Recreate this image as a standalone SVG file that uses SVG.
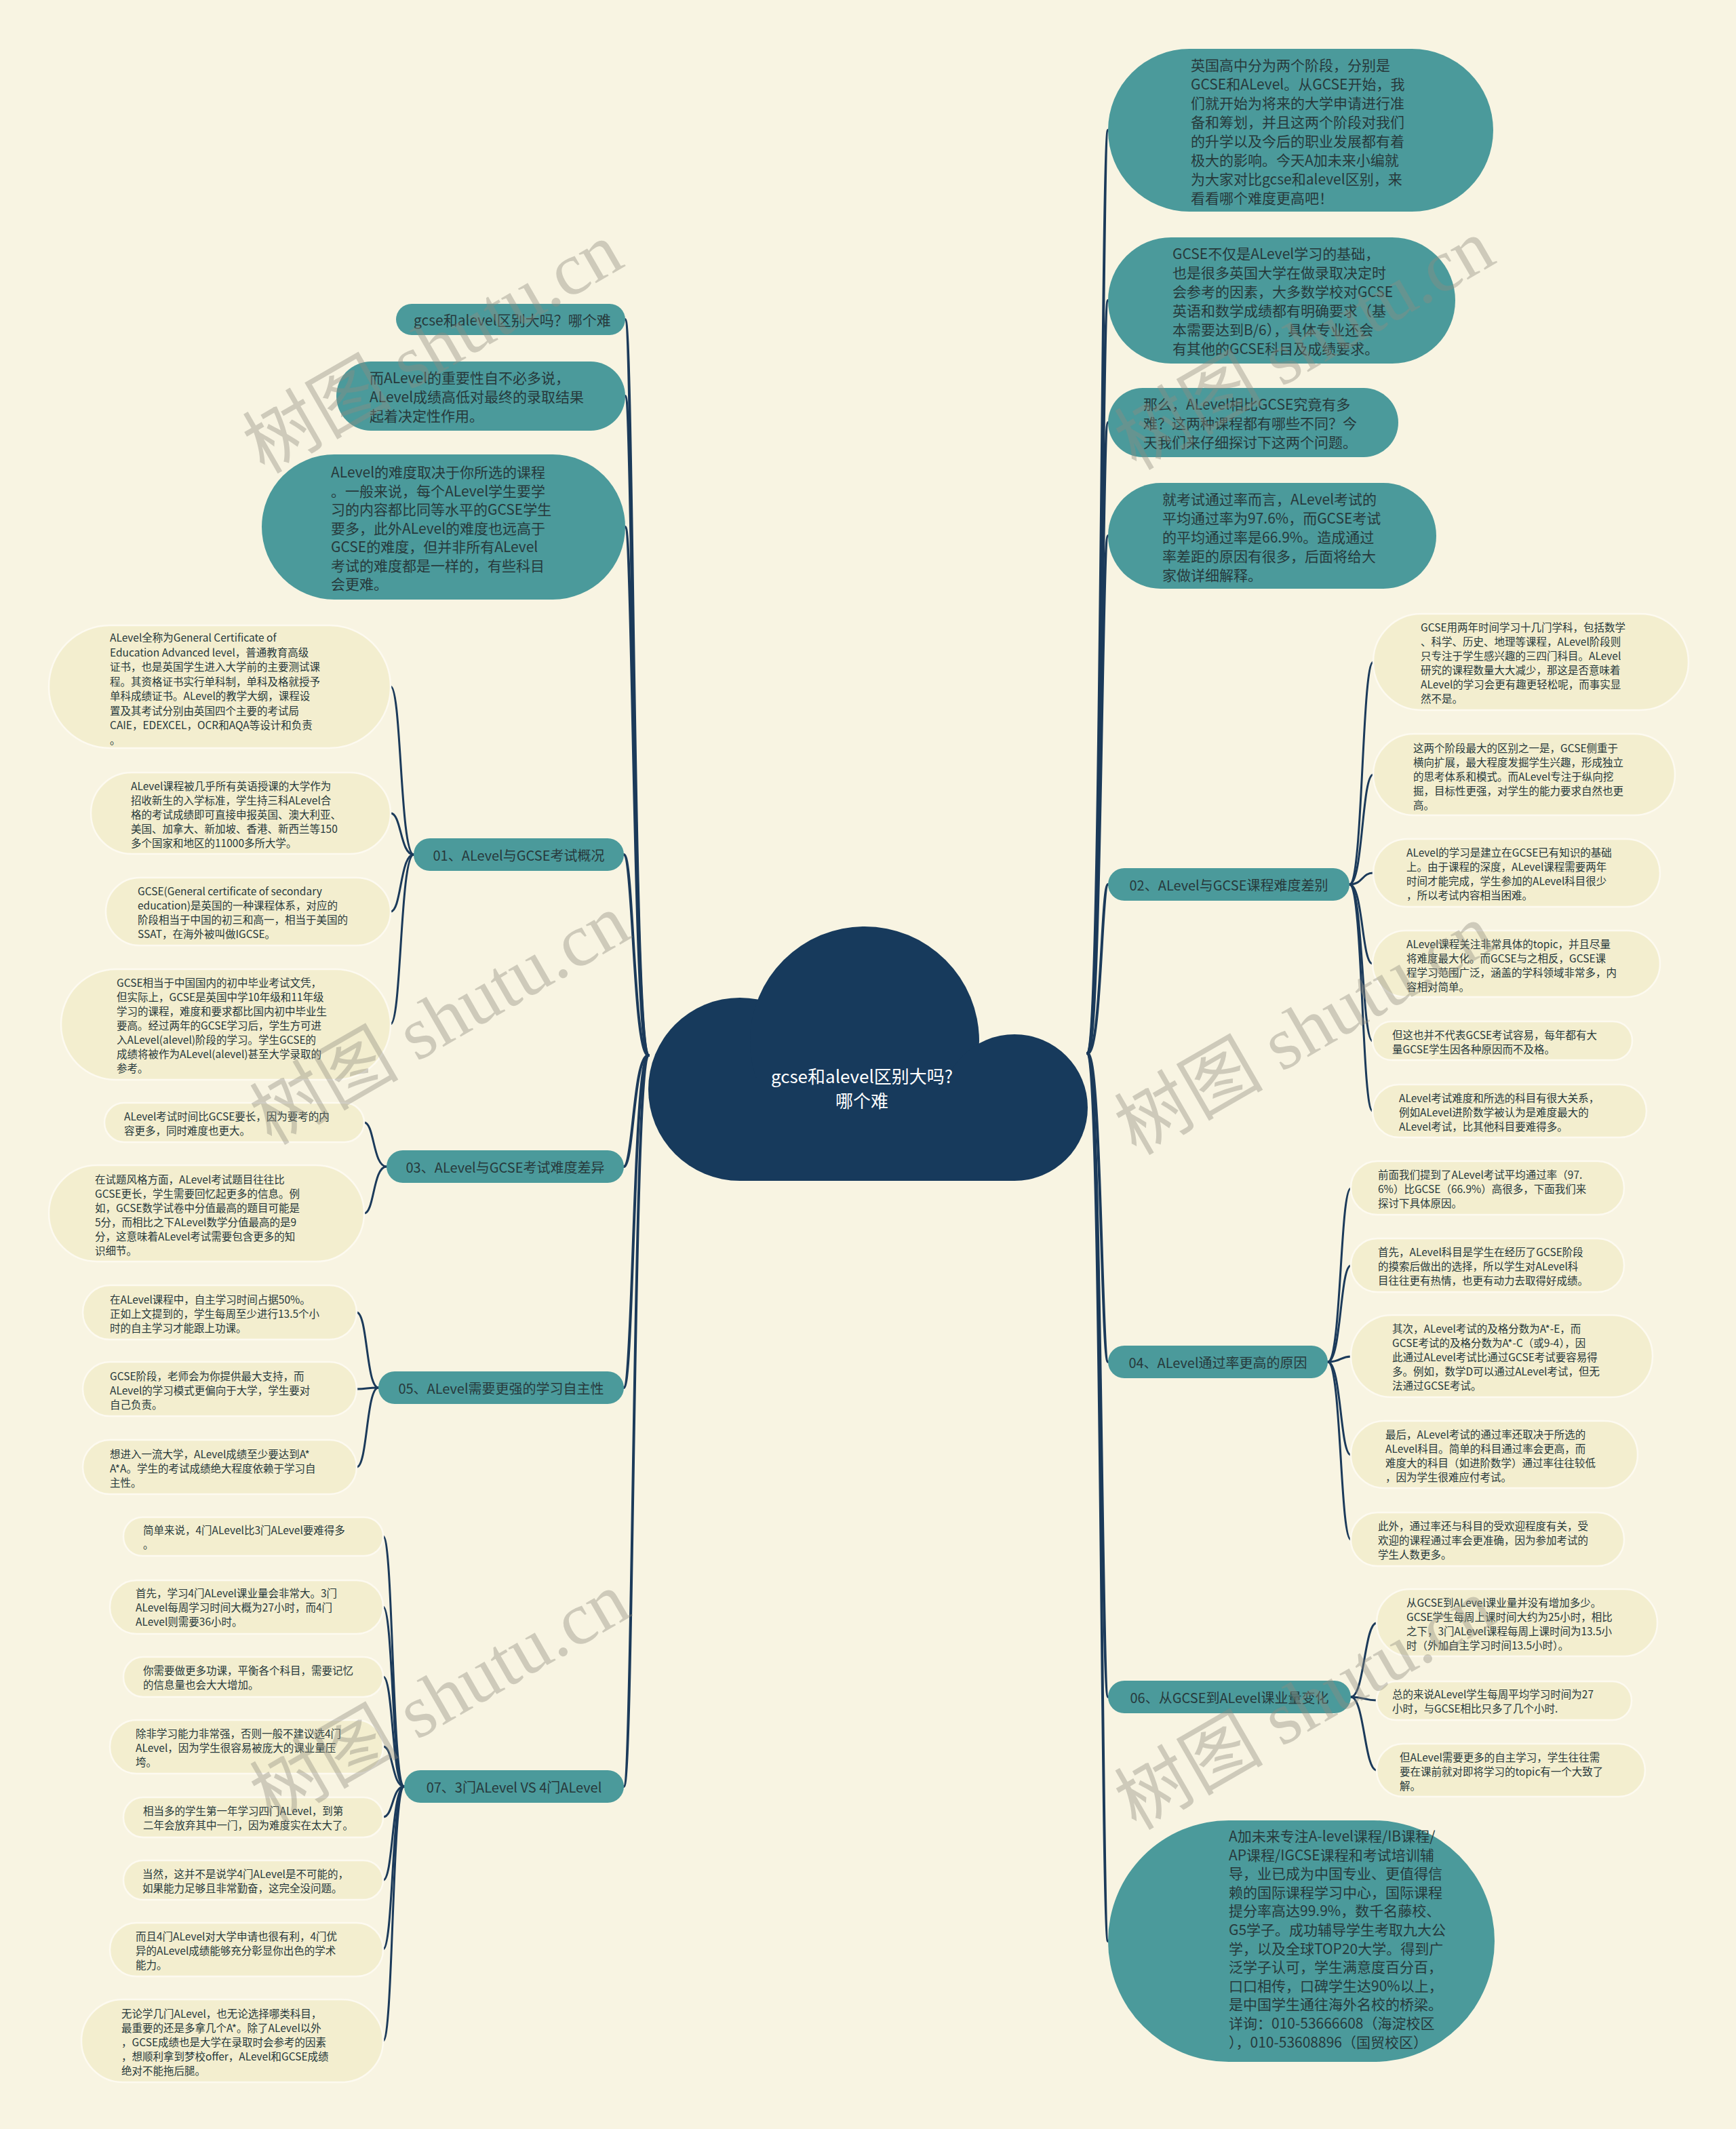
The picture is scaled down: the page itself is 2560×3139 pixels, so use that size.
<svg xmlns="http://www.w3.org/2000/svg" width="2560" height="3139" viewBox="0 0 2560 3139">
<defs>
<style>
.bg{fill:#f8f4e2}
.teal{fill:#4b9a9b}
.leaf{fill:#f3eecf;stroke:#fdfaf0;stroke-width:2.5}
.t{font-family:"Noto Sans CJK SC","Noto Sans",sans-serif;fill:#27393b;dominant-baseline:central}
.tl{font-size:21px}
.tb{font-size:20px}
.ts{font-size:15.5px}
.th{font-size:21px}
.mid{text-anchor:middle}
.conn{fill:none;stroke:#1b3a5a;stroke-linecap:round}
.c1{stroke-width:4}
.c2{stroke-width:3}
.cloud{fill:#173a5c}
.ct{font-family:"Noto Sans CJK SC","Noto Sans",sans-serif;font-size:26px;fill:#ffffff;text-anchor:middle;dominant-baseline:central}
.wm{font-family:"Liberation Serif","Noto Sans CJK SC",serif;font-size:110px;fill:#8f8c80;fill-opacity:0.4;text-anchor:middle}
</style>
</defs>
<rect class="bg" x="0" y="0" width="2560" height="3139"/>

<g id="connectors">
<path class="conn c1" d="M956,1556 C934,1556 934,471 922,471"/>
<path class="conn c1" d="M956,1556 C934,1556 934,584 922,584"/>
<path class="conn c1" d="M956,1556 C934,1556 934,777 922,777"/>
<path class="conn c1" d="M956,1556 C934,1556 934,1260 920,1260"/>
<path class="conn c1" d="M956,1556 C934,1556 934,1720 920,1720"/>
<path class="conn c1" d="M956,1556 C934,1556 934,2046 920,2046"/>
<path class="conn c1" d="M956,1556 C934,1556 934,2634 920,2634"/>
<path class="conn c1" d="M1604,1553 C1624,1553 1624,192 1634,192"/>
<path class="conn c1" d="M1604,1553 C1624,1553 1624,443 1634,443"/>
<path class="conn c1" d="M1604,1553 C1624,1553 1624,623 1634,623"/>
<path class="conn c1" d="M1604,1553 C1624,1553 1624,790 1634,790"/>
<path class="conn c1" d="M1604,1553 C1624,1553 1624,1304 1634,1304"/>
<path class="conn c1" d="M1604,1553 C1624,1553 1624,2008 1634,2008"/>
<path class="conn c1" d="M1604,1553 C1624,1553 1624,2502 1634,2502"/>
<path class="conn c1" d="M1604,1553 C1624,1553 1624,2862 1634,2862"/>
<path class="conn c2" d="M610,1260 C590,1260 592,1012 576,1012"/>
<path class="conn c2" d="M610,1260 C590,1260 592,1199 576,1199"/>
<path class="conn c2" d="M610,1260 C590,1260 592,1344 576,1344"/>
<path class="conn c2" d="M610,1260 C590,1260 592,1510 576,1510"/>
<path class="conn c2" d="M570,1720 C550,1720 552,1655 537,1655"/>
<path class="conn c2" d="M570,1720 C550,1720 552,1789 537,1789"/>
<path class="conn c2" d="M558,2046 C540,2046 542,1935 526,1935"/>
<path class="conn c2" d="M558,2046 C540,2046 542,2048 526,2048"/>
<path class="conn c2" d="M558,2046 C540,2046 542,2163 526,2163"/>
<path class="conn c2" d="M596,2634 C578,2634 580,2265 565,2265"/>
<path class="conn c2" d="M596,2634 C578,2634 580,2369 565,2369"/>
<path class="conn c2" d="M596,2634 C578,2634 580,2472 565,2472"/>
<path class="conn c2" d="M596,2634 C578,2634 580,2575 565,2575"/>
<path class="conn c2" d="M596,2634 C578,2634 580,2679 565,2679"/>
<path class="conn c2" d="M596,2634 C578,2634 580,2772 565,2772"/>
<path class="conn c2" d="M596,2634 C578,2634 580,2874 565,2874"/>
<path class="conn c2" d="M596,2634 C578,2634 580,3009 565,3009"/>
<path class="conn c2" d="M1990,1304 C2010,1304 2008,976 2025,976"/>
<path class="conn c2" d="M1990,1304 C2010,1304 2008,1142 2025,1142"/>
<path class="conn c2" d="M1990,1304 C2010,1304 2008,1287 2025,1287"/>
<path class="conn c2" d="M1990,1304 C2010,1304 2008,1421 2024,1421"/>
<path class="conn c2" d="M1990,1304 C2010,1304 2008,1535 2024,1535"/>
<path class="conn c2" d="M1990,1304 C2010,1304 2008,1638 2024,1638"/>
<path class="conn c2" d="M1958,2008 C1978,2008 1976,1752 1992,1752"/>
<path class="conn c2" d="M1958,2008 C1978,2008 1976,1866 1992,1866"/>
<path class="conn c2" d="M1958,2008 C1978,2008 1976,2000 1992,2000"/>
<path class="conn c2" d="M1958,2008 C1978,2008 1976,2145 1992,2145"/>
<path class="conn c2" d="M1958,2008 C1978,2008 1976,2270 1992,2270"/>
<path class="conn c2" d="M1992,2502 C2012,2502 2012,2393 2030,2393"/>
<path class="conn c2" d="M1992,2502 C2012,2502 2012,2507 2030,2507"/>
<path class="conn c2" d="M1992,2502 C2012,2502 2012,2610 2030,2610"/>
</g>

<g id="center">
<circle class="cloud" cx="1091" cy="1606" r="135"/>
<circle class="cloud" cx="1275" cy="1535" r="169"/>
<circle class="cloud" cx="1496" cy="1633" r="108"/>
<rect class="cloud" x="1091" y="1590" width="405" height="151"/>
<text class="ct" x="1271" y="1585">gcse和alevel区别大吗?</text>
<text class="ct" x="1271" y="1621">哪个难</text>
</g>

<g id="n-a">
<rect class="teal" x="584" y="448" width="338" height="46" rx="23"/>
<text class="t tl" x="610" y="471">gcse和alevel区别大吗？哪个难</text>
</g>
<g id="n-b">
<rect class="teal" x="496" y="533" width="426" height="102" rx="51"/>
<text class="t tl"><tspan x="545" y="556">而ALevel的重要性自不必多说，</tspan><tspan x="545" y="584">ALevel成绩高低对最终的录取结果</tspan><tspan x="545" y="612">起着决定性作用。</tspan></text>
</g>
<g id="n-c">
<rect class="teal" x="386" y="670" width="536" height="214" rx="107"/>
<text class="t tl"><tspan x="488" y="695">ALevel的难度取决于你所选的课程</tspan><tspan x="488" y="722.5">。一般来说，每个ALevel学生要学</tspan><tspan x="488" y="750">习的内容都比同等水平的GCSE学生</tspan><tspan x="488" y="777.5">要多，此外ALevel的难度也远高于</tspan><tspan x="488" y="805">GCSE的难度，但并非所有ALevel</tspan><tspan x="488" y="832.5">考试的难度都是一样的，有些科目</tspan><tspan x="488" y="860">会更难。</tspan></text>
</g>

<g id="n-d">
<rect class="teal" x="1634" y="72" width="568" height="240" rx="120"/>
<text class="t tl"><tspan x="1756" y="95">英国高中分为两个阶段，分别是</tspan><tspan x="1756" y="123">GCSE和ALevel。从GCSE开始，我</tspan><tspan x="1756" y="151">们就开始为将来的大学申请进行准</tspan><tspan x="1756" y="179">备和筹划，并且这两个阶段对我们</tspan><tspan x="1756" y="207">的升学以及今后的职业发展都有着</tspan><tspan x="1756" y="235">极大的影响。今天A加未来小编就</tspan><tspan x="1756" y="263">为大家对比gcse和alevel区别，来</tspan><tspan x="1756" y="291">看看哪个难度更高吧！</tspan></text>
</g>
<g id="n-e">
<rect class="teal" x="1634" y="350" width="512" height="186" rx="93"/>
<text class="t tl"><tspan x="1729" y="373">GCSE不仅是ALevel学习的基础，</tspan><tspan x="1729" y="401">也是很多英国大学在做录取决定时</tspan><tspan x="1729" y="429">会参考的因素，大多数学校对GCSE</tspan><tspan x="1729" y="457">英语和数学成绩都有明确要求（基</tspan><tspan x="1729" y="485">本需要达到B/6），具体专业还会</tspan><tspan x="1729" y="513">有其他的GCSE科目及成绩要求。</tspan></text>
</g>
<g id="n-f">
<rect class="teal" x="1634" y="572" width="428" height="102" rx="51"/>
<text class="t tl"><tspan x="1686" y="595">那么，ALevel相比GCSE究竟有多</tspan><tspan x="1686" y="623">难？这两种课程都有哪些不同？今</tspan><tspan x="1686" y="651">天我们来仔细探讨下这两个问题。</tspan></text>
</g>
<g id="n-g">
<rect class="teal" x="1634" y="712" width="484" height="156" rx="78"/>
<text class="t tl"><tspan x="1714" y="735">就考试通过率而言，ALevel考试的</tspan><tspan x="1714" y="763">平均通过率为97.6%，而GCSE考试</tspan><tspan x="1714" y="791">的平均通过率是66.9%。造成通过</tspan><tspan x="1714" y="819">率差距的原因有很多，后面将给大</tspan><tspan x="1714" y="847">家做详细解释。</tspan></text>
</g>
<g id="n-h">
<rect class="teal" x="1634" y="2684" width="570" height="356" rx="178"/>
<text class="t th"><tspan x="1812" y="2706">A加未来专注A-level课程/IB课程/</tspan><tspan x="1812" y="2733.6">AP课程/IGCSE课程和考试培训辅</tspan><tspan x="1812" y="2761.2">导，业已成为中国专业、更值得信</tspan><tspan x="1812" y="2788.8">赖的国际课程学习中心，国际课程</tspan><tspan x="1812" y="2816.4">提分率高达99.9%，数千名藤校、</tspan><tspan x="1812" y="2844">G5学子。成功辅导学生考取九大公</tspan><tspan x="1812" y="2871.6">学，以及全球TOP20大学。得到广</tspan><tspan x="1812" y="2899.2">泛学子认可，学生满意度百分百，</tspan><tspan x="1812" y="2926.8">口口相传，口碑学生达90%以上，</tspan><tspan x="1812" y="2954.4">是中国学生通往海外名校的桥梁。</tspan><tspan x="1812" y="2982">详询：010-53666608（海淀校区</tspan><tspan x="1812" y="3009.6">），010-53608896（国贸校区）</tspan></text>
</g>

<g id="b01">
<rect class="teal" x="610" y="1236" width="310" height="48" rx="24"/>
<text class="t tb mid" x="765" y="1260">01、ALevel与GCSE考试概况</text>
</g>
<g id="b03">
<rect class="teal" x="570" y="1696" width="350" height="48" rx="24"/>
<text class="t tb mid" x="745" y="1720">03、ALevel与GCSE考试难度差异</text>
</g>
<g id="b05">
<rect class="teal" x="558" y="2022" width="362" height="48" rx="24"/>
<text class="t tb mid" x="739" y="2046">05、ALevel需要更强的学习自主性</text>
</g>
<g id="b07">
<rect class="teal" x="596" y="2610" width="324" height="48" rx="24"/>
<text class="t tb mid" x="758" y="2634">07、3门ALevel VS 4门ALevel</text>
</g>
<g id="b02">
<rect class="teal" x="1634" y="1280" width="356" height="48" rx="24"/>
<text class="t tb mid" x="1812" y="1304">02、ALevel与GCSE课程难度差别</text>
</g>
<g id="b04">
<rect class="teal" x="1634" y="1984" width="324" height="48" rx="24"/>
<text class="t tb mid" x="1796" y="2008">04、ALevel通过率更高的原因</text>
</g>
<g id="b06">
<rect class="teal" x="1634" y="2478" width="358" height="48" rx="24"/>
<text class="t tb mid" x="1813" y="2502">06、从GCSE到ALevel课业量变化</text>
</g>

<g id="l1">
<rect class="leaf" x="72" y="922" width="504" height="181" rx="90"/>
<text class="t ts"><tspan x="162" y="939">ALevel全称为General Certificate of</tspan><tspan x="162" y="960.5">Education Advanced level，普通教育高级</tspan><tspan x="162" y="982">证书，也是英国学生进入大学前的主要测试课</tspan><tspan x="162" y="1003.5">程。其资格证书实行单科制，单科及格就授予</tspan><tspan x="162" y="1025">单科成绩证书。ALevel的教学大纲，课程设</tspan><tspan x="162" y="1046.5">置及其考试分别由英国四个主要的考试局</tspan><tspan x="162" y="1068">CAIE，EDEXCEL，OCR和AQA等设计和负责</tspan><tspan x="162" y="1089.5">。</tspan></text>
</g>
<g id="l2">
<rect class="leaf" x="134" y="1139" width="442" height="120" rx="60"/>
<text class="t ts"><tspan x="193" y="1158">ALevel课程被几乎所有英语授课的大学作为</tspan><tspan x="193" y="1179">招收新生的入学标准，学生持三科ALevel合</tspan><tspan x="193" y="1200">格的考试成绩即可直接申报英国、澳大利亚、</tspan><tspan x="193" y="1221">美国、加拿大、新加坡、香港、新西兰等150</tspan><tspan x="193" y="1242">多个国家和地区的11000多所大学。</tspan></text>
</g>
<g id="l3">
<rect class="leaf" x="156" y="1294" width="420" height="100" rx="50"/>
<text class="t ts"><tspan x="203" y="1313">GCSE(General certificate of secondary</tspan><tspan x="203" y="1334">education)是英国的一种课程体系，对应的</tspan><tspan x="203" y="1355">阶段相当于中国的初三和高一，相当于美国的</tspan><tspan x="203" y="1376">SSAT，在海外被叫做IGCSE。</tspan></text>
</g>
<g id="l4">
<rect class="leaf" x="90" y="1429" width="486" height="163" rx="81"/>
<text class="t ts"><tspan x="172" y="1448">GCSE相当于中国国内的初中毕业考试文凭，</tspan><tspan x="172" y="1469">但实际上，GCSE是英国中学10年级和11年级</tspan><tspan x="172" y="1490">学习的课程，难度和要求都比国内初中毕业生</tspan><tspan x="172" y="1511">要高。经过两年的GCSE学习后，学生方可进</tspan><tspan x="172" y="1532">入ALevel(alevel)阶段的学习。学生GCSE的</tspan><tspan x="172" y="1553">成绩将被作为ALevel(alevel)甚至大学录取的</tspan><tspan x="172" y="1574">参考。</tspan></text>
</g>
<g id="l5">
<rect class="leaf" x="154" y="1626" width="383" height="58" rx="29"/>
<text class="t ts"><tspan x="183" y="1645">ALevel考试时间比GCSE要长，因为要考的内</tspan><tspan x="183" y="1666">容更多，同时难度也更大。</tspan></text>
</g>
<g id="l6">
<rect class="leaf" x="72" y="1718" width="465" height="142" rx="71"/>
<text class="t ts"><tspan x="140" y="1738">在试题风格方面，ALevel考试题目往往比</tspan><tspan x="140" y="1759">GCSE更长，学生需要回忆起更多的信息。例</tspan><tspan x="140" y="1780">如，GCSE数学试卷中分值最高的题目可能是</tspan><tspan x="140" y="1801">5分，而相比之下ALevel数学分值最高的是9</tspan><tspan x="140" y="1822">分，这意味着ALevel考试需要包含更多的知</tspan><tspan x="140" y="1843">识细节。</tspan></text>
</g>
<g id="l7">
<rect class="leaf" x="122" y="1895" width="404" height="80" rx="40"/>
<text class="t ts"><tspan x="162" y="1915">在ALevel课程中，自主学习时间占据50%。</tspan><tspan x="162" y="1936">正如上文提到的，学生每周至少进行13.5个小</tspan><tspan x="162" y="1957">时的自主学习才能跟上功课。</tspan></text>
</g>
<g id="l8">
<rect class="leaf" x="122" y="2008" width="404" height="80" rx="40"/>
<text class="t ts"><tspan x="162" y="2028">GCSE阶段，老师会为你提供最大支持，而</tspan><tspan x="162" y="2049">ALevel的学习模式更偏向于大学，学生要对</tspan><tspan x="162" y="2070">自己负责。</tspan></text>
</g>
<g id="l9">
<rect class="leaf" x="122" y="2123" width="404" height="80" rx="40"/>
<text class="t ts"><tspan x="162" y="2143">想进入一流大学，ALevel成绩至少要达到A*</tspan><tspan x="162" y="2164">A*A。学生的考试成绩绝大程度依赖于学习自</tspan><tspan x="162" y="2185">主性。</tspan></text>
</g>
<g id="l10">
<rect class="leaf" x="182" y="2237" width="383" height="57" rx="28"/>
<text class="t ts"><tspan x="211" y="2255">简单来说，4门ALevel比3门ALevel要难得多</tspan><tspan x="211" y="2276">。</tspan></text>
</g>
<g id="l11">
<rect class="leaf" x="162" y="2330" width="403" height="79" rx="39"/>
<text class="t ts"><tspan x="200" y="2348">首先，学习4门ALevel课业量会非常大。3门</tspan><tspan x="200" y="2369">ALevel每周学习时间大概为27小时，而4门</tspan><tspan x="200" y="2390">ALevel则需要36小时。</tspan></text>
</g>
<g id="l12">
<rect class="leaf" x="182" y="2443" width="383" height="59" rx="29"/>
<text class="t ts"><tspan x="211" y="2462">你需要做更多功课，平衡各个科目，需要记忆</tspan><tspan x="211" y="2483">的信息量也会大大增加。</tspan></text>
</g>
<g id="l13">
<rect class="leaf" x="162" y="2536" width="403" height="79" rx="39"/>
<text class="t ts"><tspan x="200" y="2555">除非学习能力非常强，否则一般不建议选4门</tspan><tspan x="200" y="2576">ALevel，因为学生很容易被庞大的课业量压</tspan><tspan x="200" y="2597">垮。</tspan></text>
</g>
<g id="l14">
<rect class="leaf" x="182" y="2650" width="383" height="59" rx="29"/>
<text class="t ts"><tspan x="211" y="2669">相当多的学生第一年学习四门ALevel，到第</tspan><tspan x="211" y="2690">二年会放弃其中一门，因为难度实在太大了。</tspan></text>
</g>
<g id="l15">
<rect class="leaf" x="182" y="2743" width="383" height="58" rx="29"/>
<text class="t ts"><tspan x="210" y="2762">当然，这并不是说学4门ALevel是不可能的，</tspan><tspan x="210" y="2783">如果能力足够且非常勤奋，这完全没问题。</tspan></text>
</g>
<g id="l16">
<rect class="leaf" x="162" y="2835" width="403" height="79" rx="39"/>
<text class="t ts"><tspan x="200" y="2854">而且4门ALevel对大学申请也很有利，4门优</tspan><tspan x="200" y="2875">异的ALevel成绩能够充分彰显你出色的学术</tspan><tspan x="200" y="2896">能力。</tspan></text>
</g>
<g id="l17">
<rect class="leaf" x="120" y="2948" width="445" height="122" rx="61"/>
<text class="t ts"><tspan x="179" y="2968">无论学几门ALevel，也无论选择哪类科目，</tspan><tspan x="179" y="2989">最重要的还是多拿几个A*。除了ALevel以外</tspan><tspan x="179" y="3010">，GCSE成绩也是大学在录取时会参考的因素</tspan><tspan x="179" y="3031">，想顺利拿到梦校offer，ALevel和GCSE成绩</tspan><tspan x="179" y="3052">绝对不能拖后腿。</tspan></text>
</g>

<g id="r1">
<rect class="leaf" x="2025" y="905" width="465" height="142" rx="71"/>
<text class="t ts"><tspan x="2095" y="924">GCSE用两年时间学习十几门学科，包括数学</tspan><tspan x="2095" y="945">、科学、历史、地理等课程，ALevel阶段则</tspan><tspan x="2095" y="966">只专注于学生感兴趣的三四门科目。ALevel</tspan><tspan x="2095" y="987">研究的课程数量大大减少，那这是否意味着</tspan><tspan x="2095" y="1008">ALevel的学习会更有趣更轻松呢，而事实显</tspan><tspan x="2095" y="1029">然不是。</tspan></text>
</g>
<g id="r2">
<rect class="leaf" x="2025" y="1082" width="445" height="120" rx="60"/>
<text class="t ts"><tspan x="2084" y="1102">这两个阶段最大的区别之一是，GCSE侧重于</tspan><tspan x="2084" y="1123">横向扩展，最大程度发掘学生兴趣，形成独立</tspan><tspan x="2084" y="1144">的思考体系和模式。而ALevel专注于纵向挖</tspan><tspan x="2084" y="1165">掘，目标性更强，对学生的能力要求自然也更</tspan><tspan x="2084" y="1186">高。</tspan></text>
</g>
<g id="r3">
<rect class="leaf" x="2025" y="1237" width="423" height="100" rx="50"/>
<text class="t ts"><tspan x="2074" y="1256">ALevel的学习是建立在GCSE已有知识的基础</tspan><tspan x="2074" y="1277">上。由于课程的深度，ALevel课程需要两年</tspan><tspan x="2074" y="1298">时间才能完成，学生参加的ALevel科目很少</tspan><tspan x="2074" y="1319">，所以考试内容相当困难。</tspan></text>
</g>
<g id="r4">
<rect class="leaf" x="2024" y="1372" width="424" height="98" rx="49"/>
<text class="t ts"><tspan x="2074" y="1391">ALevel课程关注非常具体的topic，并且尽量</tspan><tspan x="2074" y="1412">将难度最大化。而GCSE与之相反，GCSE课</tspan><tspan x="2074" y="1433">程学习范围广泛，涵盖的学科领域非常多，内</tspan><tspan x="2074" y="1454">容相对简单。</tspan></text>
</g>
<g id="r5">
<rect class="leaf" x="2024" y="1506" width="383" height="57" rx="28"/>
<text class="t ts"><tspan x="2053" y="1525">但这也并不代表GCSE考试容易，每年都有大</tspan><tspan x="2053" y="1546">量GCSE学生因各种原因而不及格。</tspan></text>
</g>
<g id="r6">
<rect class="leaf" x="2024" y="1599" width="404" height="78" rx="39"/>
<text class="t ts"><tspan x="2063" y="1618">ALevel考试难度和所选的科目有很大关系，</tspan><tspan x="2063" y="1639">例如ALevel进阶数学被认为是难度最大的</tspan><tspan x="2063" y="1660">ALevel考试，比其他科目要难得多。</tspan></text>
</g>
<g id="r7">
<rect class="leaf" x="1992" y="1712" width="403" height="79" rx="39"/>
<text class="t ts"><tspan x="2032" y="1731">前面我们提到了ALevel考试平均通过率（97.</tspan><tspan x="2032" y="1752">6%）比GCSE（66.9%）高很多，下面我们来</tspan><tspan x="2032" y="1773">探讨下具体原因。</tspan></text>
</g>
<g id="r8">
<rect class="leaf" x="1992" y="1826" width="403" height="79" rx="39"/>
<text class="t ts"><tspan x="2032" y="1845">首先，ALevel科目是学生在经历了GCSE阶段</tspan><tspan x="2032" y="1866">的摸索后做出的选择，所以学生对ALevel科</tspan><tspan x="2032" y="1887">目往往更有热情，也更有动力去取得好成绩。</tspan></text>
</g>
<g id="r9">
<rect class="leaf" x="1992" y="1939" width="445" height="121" rx="60"/>
<text class="t ts"><tspan x="2053" y="1958">其次，ALevel考试的及格分数为A*-E，而</tspan><tspan x="2053" y="1979">GCSE考试的及格分数为A*-C（或9-4），因</tspan><tspan x="2053" y="2000">此通过ALevel考试比通过GCSE考试要容易得</tspan><tspan x="2053" y="2021">多。例如，数学D可以通过ALevel考试，但无</tspan><tspan x="2053" y="2042">法通过GCSE考试。</tspan></text>
</g>
<g id="r10">
<rect class="leaf" x="1992" y="2095" width="423" height="99" rx="49"/>
<text class="t ts"><tspan x="2043" y="2114">最后，ALevel考试的通过率还取决于所选的</tspan><tspan x="2043" y="2135">ALevel科目。简单的科目通过率会更高，而</tspan><tspan x="2043" y="2156">难度大的科目（如进阶数学）通过率往往较低</tspan><tspan x="2043" y="2177">，因为学生很难应付考试。</tspan></text>
</g>
<g id="r11">
<rect class="leaf" x="1992" y="2230" width="403" height="79" rx="39"/>
<text class="t ts"><tspan x="2032" y="2249">此外，通过率还与科目的受欢迎程度有关，受</tspan><tspan x="2032" y="2270">欢迎的课程通过率会更准确，因为参加考试的</tspan><tspan x="2032" y="2291">学生人数更多。</tspan></text>
</g>
<g id="r12">
<rect class="leaf" x="2030" y="2343" width="414" height="99" rx="49"/>
<text class="t ts"><tspan x="2074" y="2362">从GCSE到ALevel课业量并没有增加多少。</tspan><tspan x="2074" y="2383">GCSE学生每周上课时间大约为25小时，相比</tspan><tspan x="2074" y="2404">之下，3门ALevel课程每周上课时间为13.5小</tspan><tspan x="2074" y="2425">时（外加自主学习时间13.5小时）。</tspan></text>
</g>
<g id="r13">
<rect class="leaf" x="2030" y="2479" width="376" height="57" rx="28"/>
<text class="t ts"><tspan x="2053" y="2497">总的来说ALevel学生每周平均学习时间为27</tspan><tspan x="2053" y="2518">小时，与GCSE相比只多了几个小时.</tspan></text>
</g>
<g id="r14">
<rect class="leaf" x="2030" y="2571" width="396" height="78" rx="39"/>
<text class="t ts"><tspan x="2064" y="2590">但ALevel需要更多的自主学习，学生往往需</tspan><tspan x="2064" y="2611">要在课前就对即将学习的topic有一个大致了</tspan><tspan x="2064" y="2632">解。</tspan></text>
</g>

<g id="watermarks">
<text class="wm" x="640" y="550" transform="rotate(-30 640 516)">树图 shutu.cn</text>
<text class="wm" x="1925" y="545" transform="rotate(-30 1925 510)">树图 shutu.cn</text>
<text class="wm" x="650" y="1540" transform="rotate(-30 650 1505)">树图 shutu.cn</text>
<text class="wm" x="1925" y="1555" transform="rotate(-30 1925 1520)">树图 shutu.cn</text>
<text class="wm" x="650" y="2540" transform="rotate(-30 650 2505)">树图 shutu.cn</text>
<text class="wm" x="1925" y="2550" transform="rotate(-30 1925 2515)">树图 shutu.cn</text>
</g>
</svg>
